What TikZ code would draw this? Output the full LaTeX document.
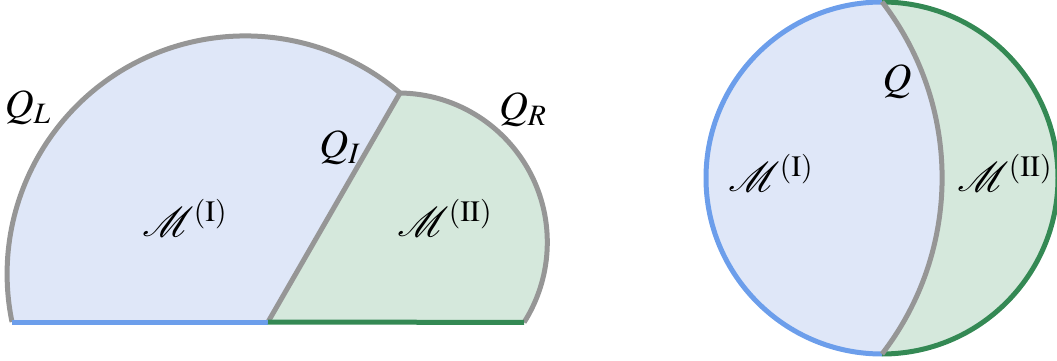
\documentclass[tikz,border=0pt]{standalone}
\usepackage{mathptmx}
\usepackage{mathrsfs}
\definecolor{fillblue}{RGB}{223,231,248}
\definecolor{fillgreen}{RGB}{213,232,220}
\definecolor{lineblue}{RGB}{108,158,235}
\definecolor{linegreen}{RGB}{52,137,84}
\definecolor{linegray}{RGB}{150,150,150}
\tikzset{
  bnd/.style={line width=2.5pt, line join=round},
  lbl/.style={font=\fontsize{20}{24}\selectfont, inner sep=0pt},
}
\begin{document}
\begin{tikzpicture}[x=0.5pt,y=0.5pt]
\useasboundingbox (0,0) rectangle (1057,360);
% ---------- left picture ----------
\coordinate (BL) at (12,38);
\coordinate (BM) at (268,38);
\coordinate (J) at (400,267);
\fill[fillblue] (BL) arc[start angle=191.6, end angle=49.5, radius=238.2] -- (BM) -- cycle;
\fill[fillgreen] (J) arc[start angle=89.2, end angle=-32.4, radius=149.4] coordinate (BR) -- (BM) -- cycle;
\draw[bnd, linegray] (BL) arc[start angle=191.6, end angle=49.5, radius=238.2];
\draw[bnd, linegray] (J) arc[start angle=89.2, end angle=-32.4, radius=149.4];
\draw[bnd, linegray] (J) -- (BM);
\draw[bnd, lineblue] (BL) -- (BM);
\draw[bnd, linegreen] (BM) -- (BR);
\node[lbl] (ql) at (28,252) {$Q_L$};
\node[lbl] (qi) at (340,212) {$Q_I$};
\node[lbl] (qr) at (523,250) {$Q_R$};
\node[lbl] (m1) at (185,142) {$\mathscr{M}^{(\mathrm{I})}$};
\node[lbl] (m2) at (445,142) {$\mathscr{M}^{(\mathrm{II})}$};
% ---------- right picture ----------
\coordinate (T) at (882,358);
\coordinate (Bt) at (882,6);
\fill[fillblue] (T) arc[start angle=90, end angle=270, radius=176]
  arc[start angle=-37.7, end angle=37.7, radius=288] -- cycle;
\fill[fillgreen] (T) arc[start angle=90, end angle=-90, radius=176]
  arc[start angle=-37.7, end angle=37.7, radius=288] -- cycle;
\draw[bnd, lineblue] (T) arc[start angle=90, end angle=270, radius=176];
\draw[bnd, linegreen] (T) arc[start angle=90, end angle=-90, radius=176];
\draw[bnd, linegray] (Bt) arc[start angle=-37.7, end angle=37.7, radius=288];
\node[lbl] (q) at (897,278) {$Q$};
\node[lbl] (m3) at (771,187) {$\mathscr{M}^{(\mathrm{I})}$};
\node[lbl] (m4) at (1005,187) {$\mathscr{M}^{(\mathrm{II})}$};
\end{tikzpicture}
\end{document}
